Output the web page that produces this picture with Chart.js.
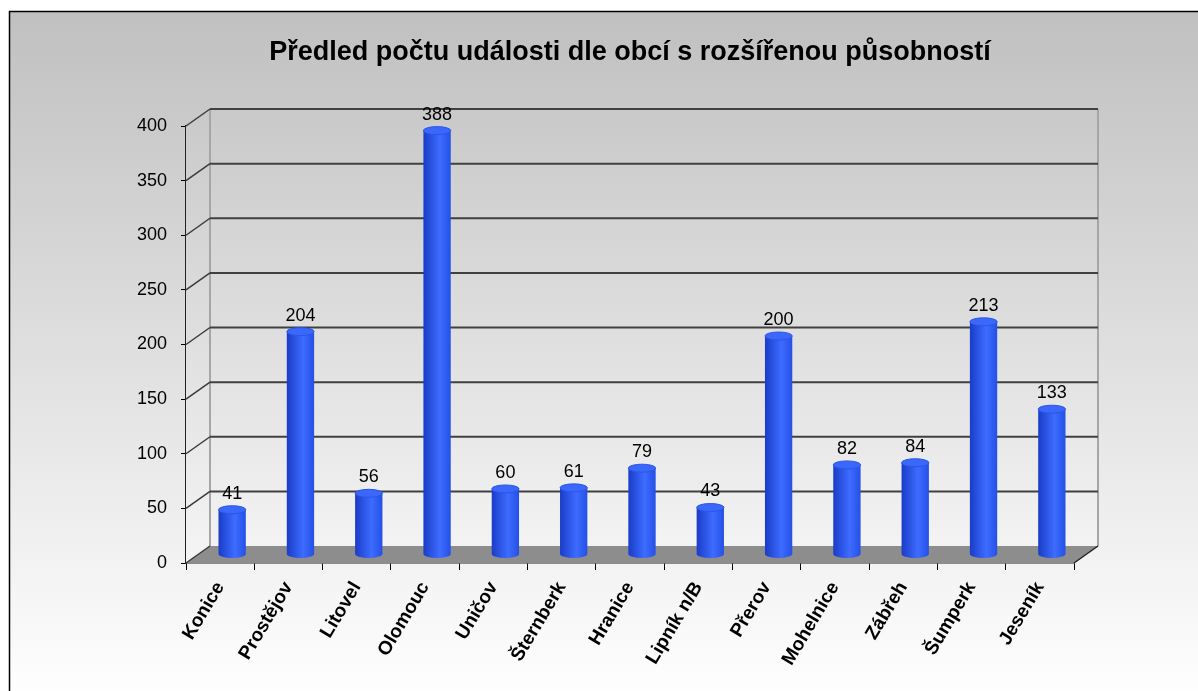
<!DOCTYPE html>
<html>
<head>
<meta charset="utf-8">
<script src="https://cdn.jsdelivr.net/npm/chart.js@4/dist/chart.umd.min.js"></script>
<style>
html,body{margin:0;padding:0;background:#fff;}
#wrap{position:absolute;left:0;top:0;width:1198px;height:691px;}
</style>
</head>
<body>
<div id="wrap"><canvas id="c" width="1198" height="691"></canvas></div>
<script>
const chartTitle = 'Předled počtu události dle obcí s rozšířenou působností';
const categories = ['Konice','Prostějov','Litovel','Olomouc','Uničov','Šternberk','Hranice','Lipník n/B','Přerov','Mohelnice','Zábřeh','Šumperk','Jeseník'];
const values = [41, 204, 56, 388, 60, 61, 79, 43, 200, 82, 84, 213, 133];
const yTicks = [0, 50, 100, 150, 200, 250, 300, 350, 400];

const FONT = "'Liberation Sans', Arial, sans-serif";
const DX = 24, DY = 17; // depth of the 3D box

const framePlugin = {
  id: 'frame',
  beforeDraw(chart) {
    const ctx = chart.ctx;
    ctx.save();
    ctx.fillStyle = '#ffffff';
    ctx.fillRect(0, 0, chart.width, chart.height);
    const g = ctx.createLinearGradient(0, 11, 0, 700);
    g.addColorStop(0, '#c0c0c0');
    g.addColorStop(1, '#ffffff');
    ctx.fillStyle = g;
    ctx.fillRect(9, 11, 1300, 800);
    ctx.strokeStyle = '#000';
    ctx.lineWidth = 1.5;
    ctx.strokeRect(9.5, 11.5, 1300, 800);
    ctx.restore();
  }
};

const wallsPlugin = {
  id: 'walls',
  beforeDatasetsDraw(chart) {
    const ctx = chart.ctx;
    const a = chart.chartArea;
    const ys = chart.scales.y;
    ctx.save();
    // back wall light fill
    const wg = ctx.createLinearGradient(0, a.top - DY, 0, a.bottom - DY);
    wg.addColorStop(0, '#c9c9c9');
    wg.addColorStop(1, '#f3f3f3');
    ctx.fillStyle = wg;
    ctx.fillRect(a.left + DX, a.top - DY, a.right - a.left, a.bottom - a.top);
    // side wall
    ctx.beginPath();
    ctx.moveTo(a.left, a.top);
    ctx.lineTo(a.left + DX, a.top - DY);
    ctx.lineTo(a.left + DX, a.bottom - DY);
    ctx.lineTo(a.left, a.bottom);
    ctx.closePath();
    ctx.fill();
    // floor
    ctx.beginPath();
    ctx.moveTo(a.left, a.bottom);
    ctx.lineTo(a.right, a.bottom);
    ctx.lineTo(a.right + DX, a.bottom - DY);
    ctx.lineTo(a.left + DX, a.bottom - DY);
    ctx.closePath();
    ctx.fillStyle = '#8d8d8d';
    ctx.fill();
    // wall edges
    ctx.strokeStyle = '#a6a6a6';
    ctx.lineWidth = 2;
    ctx.beginPath();
    ctx.moveTo(a.left + DX, a.top - DY);
    ctx.lineTo(a.left + DX, a.bottom - DY);
    ctx.moveTo(a.right + DX, a.top - DY);
    ctx.lineTo(a.right + DX, a.bottom - DY);
    ctx.stroke();
    // gridlines on back + side wall
    yTicks.forEach(v => {
      const y = ys.getPixelForValue(v);
      ctx.strokeStyle = '#3a3a3a';
      ctx.lineWidth = 1.5;
      ctx.beginPath();
      ctx.moveTo(a.left, y);
      ctx.lineTo(a.left + DX, y - DY);
      ctx.stroke();
      if (v > 0) {
        ctx.lineWidth = 2;
        ctx.strokeStyle = '#404040';
        ctx.beginPath();
        ctx.moveTo(a.left + DX, y - DY);
        ctx.lineTo(a.right + DX, y - DY);
        ctx.stroke();
      }
    });
    // right floor edge
    ctx.strokeStyle = '#222';
    ctx.lineWidth = 1.5;
    ctx.beginPath();
    ctx.moveTo(a.right, a.bottom);
    ctx.lineTo(a.right + DX, a.bottom - DY);
    ctx.stroke();
    ctx.restore();
    // shift bars to the middle of the depth
    ctx.save();
    ctx.translate(DX / 2, -DY / 2);
  },
  afterDatasetsDraw(chart) {
    const ctx = chart.ctx;
    const meta = chart.getDatasetMeta(0);
    meta.data.forEach(el => {
      const p = el.getProps(['x', 'y', 'base', 'width'], true);
      const rx = p.width / 2, ry = 4;
      const g = ctx.createLinearGradient(p.x - rx, 0, p.x + rx, 0);
      g.addColorStop(0, '#1a3cc8');
      g.addColorStop(0.6, '#3d6cff');
      g.addColorStop(1, '#2550e6');
      // bottom half ellipse
      ctx.beginPath();
      ctx.ellipse(p.x, p.base, rx, ry, 0, 0, Math.PI);
      ctx.fillStyle = g;
      ctx.fill();
      // top cap
      ctx.beginPath();
      ctx.ellipse(p.x, p.y, rx, ry, 0, 0, Math.PI * 2);
      ctx.fillStyle = '#3b68fa';
      ctx.fill();
      ctx.strokeStyle = '#2a55e8';
      ctx.lineWidth = 1;
      ctx.stroke();
    });
    ctx.restore();
    // data labels
    ctx.save();
    ctx.font = '18px ' + FONT;
    ctx.fillStyle = '#000';
    ctx.textAlign = 'center';
    ctx.textBaseline = 'middle';
    meta.data.forEach((el, i) => {
      const p = el.getProps(['x', 'y'], true);
      ctx.fillText(String(values[i]), p.x + DX / 2, p.y - DY / 2 - 16);
    });
    ctx.restore();
  }
};

new Chart(document.getElementById('c'), {
  type: 'bar',
  data: {
    labels: categories,
    datasets: [{
      data: values,
      categoryPercentage: 1,
      barPercentage: 0.4,
      borderWidth: 0,
      backgroundColor(ctx) {
        const chart = ctx.chart;
        if (!chart.chartArea || !chart.scales.x) return '#2f5cf5';
        const xs = chart.scales.x;
        const x = xs.getPixelForValue(ctx.dataIndex);
        const w = (xs.width / categories.length) * 0.4;
        const g = chart.ctx.createLinearGradient(x - w / 2, 0, x + w / 2, 0);
        g.addColorStop(0, '#1a3cc8');
        g.addColorStop(0.6, '#3d6cff');
        g.addColorStop(1, '#2550e6');
        return g;
      }
    }]
  },
  options: {
    responsive: false,
    animation: false,
    devicePixelRatio: 1,
    layout: { padding: { left: 0, right: 124, top: 0, bottom: 0 } },
    plugins: {
      legend: { display: false },
      tooltip: { enabled: false },
      title: {
        display: true,
        text: chartTitle,
        fullSize: false,
        color: '#000',
        font: { family: FONT, size: 27, weight: 'bold' },
        padding: { top: 36, bottom: 57.6 }
      }
    },
    scales: {
      x: {
        grid: { display: true, drawOnChartArea: false, drawTicks: true, tickLength: 7, color: '#000', offset: true },
        border: { display: true, color: '#222', width: 1.5 },
        ticks: {
          color: '#000',
          font: { family: FONT, size: 19, weight: 'bold' },
          minRotation: 59,
          maxRotation: 59,
          padding: 8,
          autoSkip: false
        },
        afterFit(scale) { scale.height = 128; }
      },
      y: {
        min: 0,
        max: 400,
        grid: { display: true, drawOnChartArea: false, drawTicks: true, tickLength: 5, color: '#000' },
        border: { display: true, color: '#222', width: 1.5 },
        ticks: {
          stepSize: 50,
          color: '#000',
          font: { family: FONT, size: 18 },
          padding: 14
        },
        afterFit(scale) { scale.width = 186; }
      }
    }
  },
  plugins: [framePlugin, wallsPlugin]
});
</script>
</body>
</html>
